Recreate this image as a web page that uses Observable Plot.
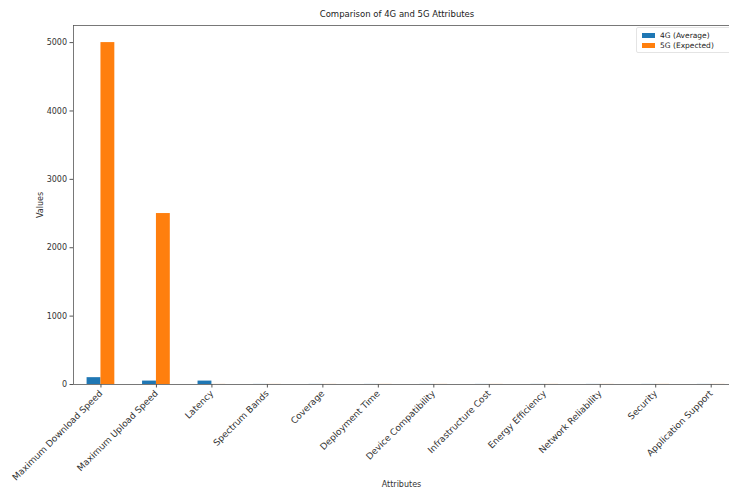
<!DOCTYPE html>
<html>
<head>
<meta charset="utf-8">
<script src="https://cdn.jsdelivr.net/npm/d3@7"></script>
<script src="https://cdn.jsdelivr.net/npm/@observablehq/plot@0.6"></script>
<style>
  html, body { margin: 0; padding: 0; background: #fff; }
  #wrap { position: relative; width: 729px; height: 488px; overflow: hidden; font-family: "DejaVu Sans", sans-serif; }
  #title { height: 24px; width: 729px; position: relative; }
  #title span { position: absolute; left: 197px; width: 400px; top: 9px; text-align: center; font-size: 8.5px; color: #222; }
  #legend { position: absolute; left: 636px; top: 27px; padding: 2px 30px 2px 5px; border: 1px solid #e4e4e4; border-radius: 2px; font-size: 7.5px; color: #222; background: rgba(255,255,255,0.8); white-space: nowrap; }
  #legend div { display: flex; align-items: center; height: 10px; white-space: nowrap; }
  #legend i { display: inline-block; width: 13px; height: 5px; margin-right: 5px; flex: none; }
</style>
</head>
<body>
<div id="wrap">
  <div id="title"><span>Comparison of 4G and 5G Attributes</span></div>
  <div id="chart"></div>
  <div id="legend"></div>
</div>
<script>
const categories = [
  "Maximum Download Speed", "Maximum Upload Speed", "Latency", "Spectrum Bands",
  "Coverage", "Deployment Time", "Device Compatibility", "Infrastructure Cost",
  "Energy Efficiency", "Network Reliability", "Security", "Application Support"
];
const values4G = [100, 50, 50, 1, 1, 1, 1, 1, 1, 1, 1, 1];
const values5G = [5000, 2500, 1, 1, 1, 1, 1, 1, 1, 1, 1, 1];
const seriesNames = ["4G (Average)", "5G (Expected)"];
const seriesColors = ["#1f77b4", "#ff7f0e"];
const yTicks = [0, 1000, 2000, 3000, 4000, 5000];

const barW = 0.25;
const rows = [];
categories.forEach((c, i) => {
  rows.push({i, series: seriesNames[0], value: values4G[i], x1: i - barW, x2: i});
  rows.push({i, series: seriesNames[1], value: values5G[i], x1: i, x2: i + barW});
});

const plot = Plot.plot({
  width: 729,
  height: 464,
  marginTop: 1,
  marginBottom: 104,
  marginLeft: 73,
  marginRight: 0,
  style: {fontFamily: "DejaVu Sans, sans-serif", fontSize: "8px", color: "#333", background: "#fff"},
  x: {type: "linear", domain: [-0.495, 11.33]},
  y: {domain: [0, 5250]},
  color: {domain: seriesNames, range: seriesColors},
  marks: [
    Plot.rectY(rows, {x1: "x1", x2: "x2", y: "value", fill: "series"}),
    Plot.frame({anchor: "top", stroke: "#555", strokeWidth: 0.8}),
    Plot.axisY({ticks: yTicks, tickFormat: d => String(d), tickSize: 3.5, tickPadding: 3,
      label: "Values", labelAnchor: "center", labelArrow: "none", labelOffset: 36, stroke: "#555"}),
    Plot.axisX({ticks: d3.range(categories.length), tickFormat: i => categories[i], tickRotate: -45,
      tickSize: 3.5, tickPadding: 4, fontSize: 9, label: null, stroke: "#555"}),
    Plot.axisX({ticks: [], tickSize: 0, label: "Attributes", labelAnchor: "center", labelArrow: "none",
      labelOffset: 102}),
    Plot.ruleY([0], {stroke: "#555", strokeWidth: 0.8}),
    Plot.ruleX([-0.495], {stroke: "#555", strokeWidth: 0.8})
  ]
});
document.getElementById("chart").appendChild(plot);

const legend = document.getElementById("legend");
seriesNames.forEach((s, k) => {
  const row = document.createElement("div");
  row.innerHTML = `<i style="background:${seriesColors[k]}"></i><span>${s}</span>`;
  legend.appendChild(row);
});
</script>
</body>
</html>
